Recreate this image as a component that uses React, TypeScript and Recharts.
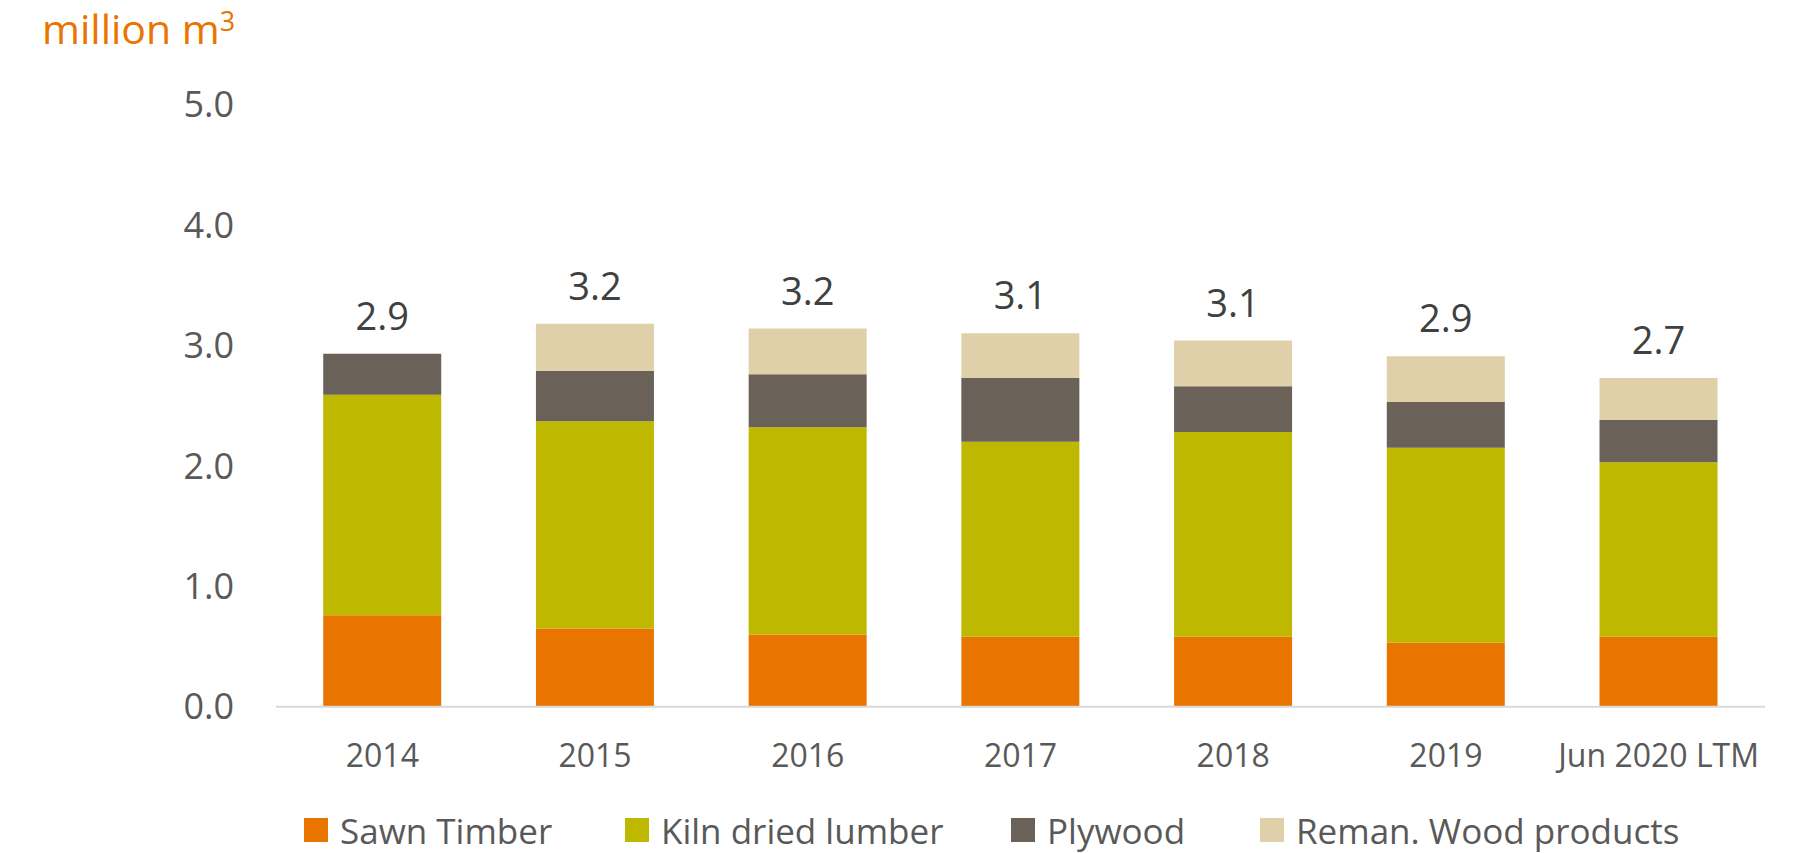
import React from 'react';
import { BarChart, Bar, XAxis, YAxis, LabelList } from 'recharts';

const categories = ['2014', '2015', '2016', '2017', '2018', '2019', 'Jun 2020 LTM'];
const sawnTimber = [0.76, 0.65, 0.6, 0.58, 0.58, 0.53, 0.58];
const kilnDried = [1.83, 1.72, 1.72, 1.62, 1.7, 1.62, 1.45];
const plywood = [0.34, 0.42, 0.44, 0.53, 0.38, 0.38, 0.35];
const reman = [0, 0.39, 0.38, 0.37, 0.38, 0.38, 0.35];
const totalLabels = ['2.9', '3.2', '3.2', '3.1', '3.1', '2.9', '2.7'];
const yTicks = [0, 1, 2, 3, 4, 5];

const seriesNames = ['Sawn Timber', 'Kiln dried lumber', 'Plywood', 'Reman. Wood products'];
const seriesKeys = ['sawn', 'kiln', 'ply', 'reman'];
const seriesColors = ['#E97500', '#BFB800', '#6A6158', '#DFD0A9'];
const legendLeft = [304, 625, 1011, 1260];

const data = categories.map((c, i) => ({
  name: c,
  sawn: sawnTimber[i],
  kiln: kilnDried[i],
  ply: plywood[i],
  reman: reman[i],
  total: totalLabels[i],
}));

const FONT = '"Open Sans", "Segoe UI", sans-serif';

// Label drawn from the plywood segment; lifted by the reman segment height
// computed from the plywood segment's own pixel scale.
const TotalLabel = (props: any) => {
  const { x, y, width, height, index } = props;
  const plyVal = plywood[index];
  const pxPerUnit = plyVal ? Math.abs(height) / plyVal : 0;
  const topY = y - reman[index] * pxPerUnit;
  return (
    <text
      x={x + width / 2}
      y={topY - 24}
      textAnchor="middle"
      fontFamily={FONT}
      fontSize={38}
      fill="#404040"
    >
      {totalLabels[index]}
    </text>
  );
};

export default function App() {
  return (
    <div style={{ position: 'absolute', left: 0, top: 0, width: 1808, height: 853, background: '#fff', fontFamily: FONT }}>
      <svg style={{ position: 'absolute', left: 0, top: 0 }} width={400} height={80}>
        <text x={42} y={44} fontFamily={FONT} fontSize={41} fill="#E97500">
          million m
          <tspan dy={-13} fontSize={27}>3</tspan>
        </text>
      </svg>
      <BarChart
        width={1808}
        height={853}
        data={data}
        margin={{ top: 104.5, right: 43, bottom: 86.3, left: 0 }}
        barCategoryGap="22.2%"
      >
        <XAxis
          dataKey="name"
          height={60}
          axisLine={{ stroke: '#D9D9D9', strokeWidth: 2 }}
          tickLine={false}
          tickSize={0}
          tickMargin={38}
          tick={{ fontFamily: FONT, fontSize: 32, fill: '#595959' }}
          interval={0}
        />
        <YAxis
          width={276}
          domain={[0, 5]}
          ticks={yTicks}
          axisLine={false}
          tickLine={false}
          tickSize={0}
          tickMargin={42}
          tickFormatter={(v: number) => v.toFixed(1)}
          tick={{ fontFamily: FONT, fontSize: 36, fill: '#595959' }}
        />
        {seriesKeys.map((k, i) => (
          <Bar
            key={k}
            dataKey={k}
            name={seriesNames[i]}
            stackId="a"
            fill={seriesColors[i]}
            isAnimationActive={false}
          >
            {k === 'ply' ? <LabelList dataKey="total" content={TotalLabel} /> : null}
          </Bar>
        ))}
      </BarChart>
      {seriesNames.map((n, i) => (
        <div
          key={n}
          style={{
            position: 'absolute',
            left: legendLeft[i],
            top: 806,
            height: 48,
            display: 'flex',
            alignItems: 'center',
            fontFamily: FONT,
            fontSize: 35,
            color: '#595959',
            whiteSpace: 'nowrap',
          }}
        >
          <span style={{ display: 'inline-block', width: 24, height: 24, background: seriesColors[i], marginRight: 12 }} />
          <span>{n}</span>
        </div>
      ))}
    </div>
  );
}
